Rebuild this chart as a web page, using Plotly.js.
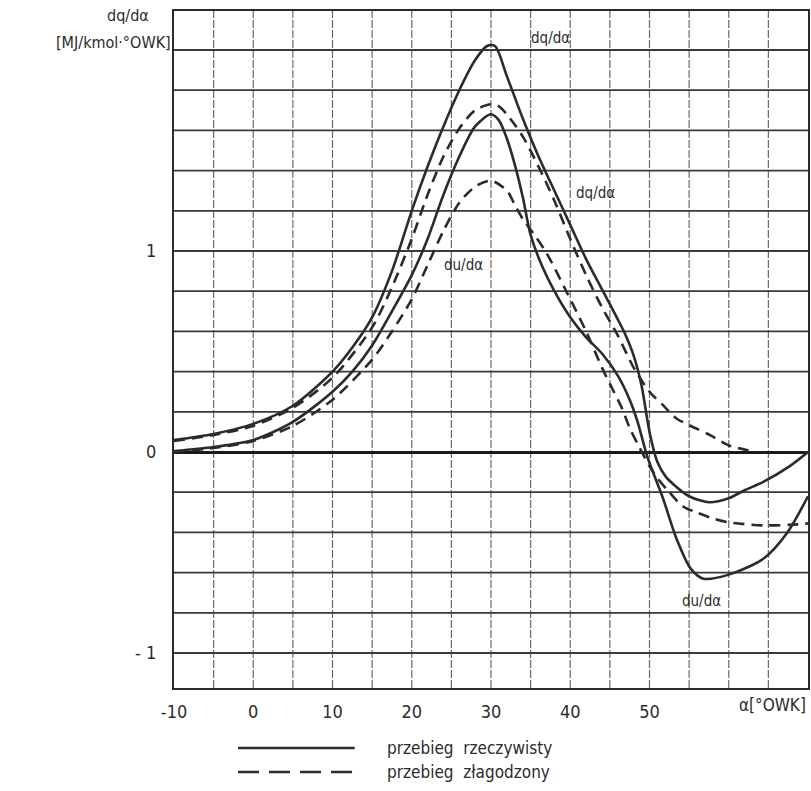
<!DOCTYPE html>
<html>
<head>
<meta charset="utf-8">
<script src="https://cdn.plot.ly/plotly-3.0.1.min.js"></script>
<style>html,body{margin:0;padding:0;background:#fff;}#chart{width:811px;height:791px;}</style>
</head>
<body>
<div id="chart"></div>
<script>
// dq/dα – real course (solid)
const dqReal_x = [-10, -5, 0, 5, 10, 12.5, 15, 17.5, 20, 22, 24, 26, 28, 29.5, 30.5, 32, 34, 36, 38, 40, 42, 44, 46, 47, 48, 49, 50, 51, 52, 53, 55, 57.5, 60, 62, 64.3, 67.7, 70];
const dqReal_y = [0.06, 0.09, 0.14, 0.23, 0.4, 0.52, 0.67, 0.9, 1.2, 1.42, 1.62, 1.8, 1.95, 2.02, 2.02, 1.87, 1.66, 1.47, 1.3, 1.13, 0.96, 0.81, 0.66, 0.58, 0.48, 0.33, 0.1, -0.05, -0.12, -0.16, -0.22, -0.25, -0.23, -0.19, -0.15, -0.07, 0.0];
// dq/dα – smoothed course (dashed)
const dqSmooth_x = [-10, -5, 0, 5, 10, 15, 17.5, 20, 22, 24, 26, 28, 30, 31, 32, 34, 36, 38, 40, 42, 44, 46, 48, 50, 51.7, 53.4, 55.9, 57.7, 60, 62.5];
const dqSmooth_y = [0.055, 0.085, 0.13, 0.22, 0.37, 0.62, 0.82, 1.06, 1.28, 1.47, 1.61, 1.7, 1.73, 1.72, 1.68, 1.57, 1.42, 1.25, 1.06, 0.88, 0.72, 0.58, 0.42, 0.3, 0.233, 0.167, 0.117, 0.083, 0.033, 0.008];
// du/dα – real course (solid)
const duReal_x = [-10, -5, 0, 5, 10, 12.5, 15, 17.5, 20, 22, 24, 26, 28, 30, 31, 32, 33, 34, 35, 36.5, 38, 40, 42, 44, 46, 47.5, 48.5, 49.7, 51.7, 53.4, 55.2, 56.8, 60, 64.4, 67.4, 70];
const duReal_y = [0.005, 0.025, 0.06, 0.15, 0.3, 0.4, 0.53, 0.7, 0.88, 1.06, 1.28, 1.47, 1.62, 1.68, 1.65, 1.56, 1.43, 1.27, 1.08, 0.92, 0.8, 0.67, 0.57, 0.49, 0.38, 0.26, 0.15, -0.02, -0.23, -0.43, -0.58, -0.63, -0.61, -0.53, -0.4, -0.22];
// du/dα – smoothed course (dashed)
const duSmooth_x = [-10, -5, 0, 5, 10, 15, 17.5, 20, 22, 24, 26, 28, 30, 32, 33, 34, 35.3, 37, 39.5, 42, 44, 45.5, 46.5, 47.5, 48.5, 50, 51, 52.5, 54.2, 55.9, 58, 60, 64.4, 68.7, 70];
const duSmooth_y = [0.0, 0.02, 0.055, 0.13, 0.26, 0.46, 0.6, 0.76, 0.93, 1.1, 1.24, 1.32, 1.35, 1.3, 1.23, 1.16, 1.09, 0.99, 0.8, 0.6, 0.42, 0.3, 0.22, 0.12, 0.04, -0.07, -0.13, -0.2, -0.27, -0.3, -0.33, -0.35, -0.365, -0.36, -0.355];

const xTickVals = [-10, 0, 10, 20, 30, 40, 50];
const xTickText = ['-10', '0', '10', '20', '30', '40', '50'];
const yTickVals = [-1, 0, 1];
const yTickText = ['- 1', '0', '1'];

const FONT = '"Liberation Sans Narrow", "DejaVu Sans Condensed", "Liberation Sans", sans-serif';
const INK = '#2b2b2b';

const lineSolid = {color: INK, width: 2.6, shape: 'spline', smoothing: 0.8};
const lineDash = {color: INK, width: 2.6, shape: 'spline', smoothing: 0.8, dash: '11px,7px'};

const traces = [
  {x: dqReal_x, y: dqReal_y, mode: 'lines', line: lineSolid, name: 'dq/dα rzeczywisty'},
  {x: dqSmooth_x, y: dqSmooth_y, mode: 'lines', line: lineDash, name: 'dq/dα złagodzony'},
  {x: duReal_x, y: duReal_y, mode: 'lines', line: lineSolid, name: 'du/dα rzeczywisty'},
  {x: duSmooth_x, y: duSmooth_y, mode: 'lines', line: lineDash, name: 'du/dα złagodzony'}
];

const txt = (s) => ({size: s, family: FONT, color: INK});

const layout = {
  width: 811, height: 791,
  margin: {l: 174, r: 3, t: 11, b: 103},
  paper_bgcolor: '#fff', plot_bgcolor: '#fff',
  showlegend: false,
  xaxis: {
    range: [-10, 70],
    tickmode: 'array', tickvals: xTickVals, ticktext: xTickText,
    showgrid: false, zeroline: false,
    showline: true, linecolor: INK, linewidth: 2, mirror: true,
    ticks: '', ticklabelstandoff: 6,
    tickfont: txt(18)
  },
  yaxis: {
    range: [-1.174, 2.194],
    tickmode: 'array', tickvals: yTickVals, ticktext: yTickText,
    showgrid: false,
    zeroline: true, zerolinecolor: '#1a1a1a', zerolinewidth: 3,
    showline: true, linecolor: INK, linewidth: 2, mirror: true,
    ticks: '', ticklabelstandoff: 12,
    tickfont: txt(18)
  },
  shapes: [],
  annotations: [
    {xref: 'paper', yref: 'paper', x: -0.0726, y: 0.994, text: 'dq/dα', showarrow: false, font: txt(16), xanchor: 'center', yanchor: 'middle'},
    {xref: 'paper', yref: 'paper', x: -0.002, y: 0.953, text: '[MJ/kmol·°OWK]', showarrow: false, font: txt(16), xanchor: 'right', yanchor: 'middle'},
    {xref: 'x', yref: 'paper', x: 65.5, y: -0.025, text: 'α[°OWK]', showarrow: false, font: txt(17), xanchor: 'center', yanchor: 'middle'},
    {xref: 'x', yref: 'y', x: 37.5, y: 2.06, text: 'dq/dα', showarrow: false, font: txt(15), xanchor: 'center', yanchor: 'middle'},
    {xref: 'x', yref: 'y', x: 43.2, y: 1.29, text: 'dq/dα', showarrow: false, font: txt(15), xanchor: 'center', yanchor: 'middle'},
    {xref: 'x', yref: 'y', x: 26.5, y: 0.93, text: 'du/dα', showarrow: false, font: txt(15), xanchor: 'center', yanchor: 'middle'},
    {xref: 'x', yref: 'y', x: 56.5, y: -0.74, text: 'du/dα', showarrow: false, font: txt(15), xanchor: 'center', yanchor: 'middle'},
    {xref: 'paper', yref: 'paper', x: 0.333, y: -0.0886, text: 'przebieg  rzeczywisty', showarrow: false, font: txt(17), xanchor: 'left', yanchor: 'middle'},
    {xref: 'paper', yref: 'paper', x: 0.333, y: -0.124, text: 'przebieg  złagodzony', showarrow: false, font: txt(17), xanchor: 'left', yanchor: 'middle'}
  ]
};

// grid lines (vertical every 5, horizontal every 0.2) drawn as shapes in axis coordinates
for (let v = -5; v < 70; v += 5) {
  layout.shapes.push({type: 'line', xref: 'x', yref: 'paper', x0: v, x1: v, y0: 0, y1: 1, layer: 'below',
    line: {color: '#6a6a6a', width: 1.2, dash: '8px,2px'}});
}
for (let k = -5; k <= 10; k++) {
  const h = k * 0.2;
  if (Math.abs(h) < 1e-9) continue;
  layout.shapes.push({type: 'line', xref: 'paper', yref: 'y', x0: 0, x1: 1, y0: h, y1: h, layer: 'below',
    line: {color: '#3a3a3a', width: 1.8}});
}
// legend samples
layout.shapes.push({type: 'line', xref: 'paper', yref: 'paper', x0: 0.101, x1: 0.285, y0: -0.0886, y1: -0.0886, line: {color: INK, width: 2.6}});
layout.shapes.push({type: 'line', xref: 'paper', yref: 'paper', x0: 0.101, x1: 0.285, y0: -0.124, y1: -0.124, line: {color: INK, width: 2.6, dash: '21px,10px'}});

Plotly.newPlot('chart', traces, layout, {displayModeBar: false, staticPlot: true});
</script>
</body>
</html>
